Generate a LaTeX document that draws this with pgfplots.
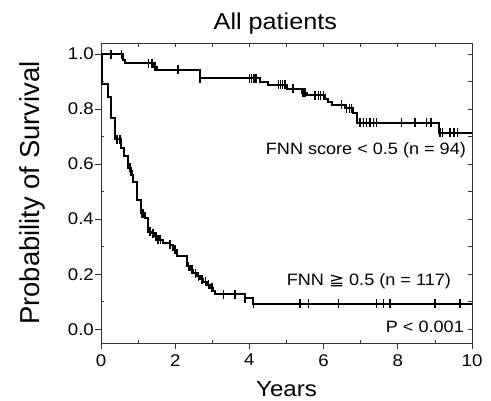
\documentclass[border=0pt]{standalone}
\usepackage{fontspec}
\setmainfont{Liberation Sans}[FakeStretch=1.1]
\newfontfamily\ylfont{Liberation Sans}
\newfontfamily\symfont{DejaVu Sans}[FakeStretch=1.1]
\usepackage{pgfplots}
\pgfplotsset{compat=1.18}

\pgfplotsset{kmbase/.style={
    width=371bp, height=300bp, scale only axis,
    xmin=0, xmax=10, ymin=-0.05, ymax=1.04,
    axis line style={black!80, line width=0.8bp},
    every tick/.style={black!80, line width=0.8bp},
}}

\begin{document}
\begin{tikzpicture}
% top/right ticks, pointing in
\begin{axis}[kmbase,
    xtick={0,1,...,10}, ytick={0,0.1,0.2,0.3,0.4,0.5,0.6,0.7,0.8,0.9,1.0},
    xtick pos=right, ytick pos=right, tick align=inside, major tick length=4bp,
    xticklabels={}, yticklabels={}]
\end{axis}
% minor ticks left/bottom, pointing in
\begin{axis}[kmbase,
    xtick={1,3,5,7,9}, ytick={0.1,0.3,0.5,0.7,0.9},
    xtick pos=left, ytick pos=left, tick align=inside, major tick length=3bp,
    xticklabels={}, yticklabels={}]
\end{axis}
% main axis with data
\begin{axis}[kmbase,
    clip=false,
    xtick={0,2,4,6,8,10}, ytick={0,0.2,0.4,0.6,0.8,1.0},
    xtick pos=left, ytick pos=left, tick align=outside, major tick length=6bp,
    /pgf/number format/assume math mode=true,
    yticklabel style={/pgf/number format/.cd, fixed, fixed zerofill, precision=1},
    xticklabel style={yshift=-4bp},
    ticklabel style={font=\fontsize{17}{19}\selectfont, inner sep=1bp},
  ]
% FNN score < 0.5
\addplot[const plot, black, line width=2bp] coordinates {
 (0,1.000) (0.58,0.978) (0.66,0.966) (1.40,0.954) (1.50,0.942) (2.67,0.912)
 (4.29,0.899) (4.51,0.888) (5.02,0.873) (5.41,0.860) (5.56,0.850) (6.04,0.836)
 (6.13,0.827) (6.22,0.815) (6.58,0.803) (6.80,0.787) (6.89,0.750) (9.12,0.714)
 (10,0.714)};
\addplot[only marks, mark=|, mark size=4.5bp, mark options={line width=1.4bp}, black] coordinates {
 (0.27,1.000) (0.56,1.000) (1.28,0.966) (1.37,0.966) (1.46,0.954) (2.08,0.942)
 (2.67,0.912) (4.00,0.912) (4.06,0.912) (4.12,0.912) (4.18,0.912)
 (4.78,0.888) (4.84,0.888) (4.90,0.888) (4.96,0.888) (5.18,0.873)
 (5.45,0.860) (5.50,0.860) (5.77,0.850) (5.86,0.850) (5.92,0.850) (5.99,0.850)
 (6.49,0.815) (6.62,0.803) (6.69,0.803) (6.76,0.803)
 (6.98,0.750) (7.07,0.750) (7.16,0.750) (7.25,0.750) (7.34,0.750) (7.43,0.750)
 (8.10,0.750) (8.46,0.750) (8.78,0.750) (8.90,0.750)
 (9.14,0.714) (9.20,0.714) (9.41,0.714) (9.52,0.714) (9.61,0.714)};
% FNN >= 0.5
\addplot[const plot, black, line width=2bp] coordinates {
 (0,1.000) (0.02,0.955) (0.04,0.890) (0.18,0.842) (0.27,0.769) (0.38,0.690)
 (0.54,0.660) (0.63,0.630) (0.72,0.587) (0.81,0.562) (0.86,0.535) (0.97,0.471)
 (1.07,0.421) (1.19,0.403) (1.28,0.355) (1.37,0.349) (1.46,0.337) (1.55,0.325)
 (1.68,0.313) (1.86,0.307) (1.95,0.288) (2.04,0.266) (2.31,0.228) (2.40,0.216)
 (2.49,0.204) (2.58,0.192) (2.67,0.182) (2.76,0.172) (2.85,0.161) (2.94,0.150)
 (3.03,0.138) (3.07,0.128) (3.88,0.113) (4.11,0.093) (10,0.093)};
\addplot[only marks, mark=|, mark size=4.5bp, mark options={line width=1.4bp}, black] coordinates {
 (0.43,0.690) (0.51,0.690) (0.78,0.587) (0.85,0.562) (1.10,0.421) (1.15,0.421)
 (1.32,0.355) (1.40,0.349) (1.48,0.337) (1.54,0.325) (1.61,0.325)
 (1.86,0.307) (2.00,0.288) (2.36,0.228) (2.45,0.216) (2.54,0.204) (2.63,0.192)
 (2.72,0.182) (2.81,0.172) (2.90,0.161) (2.99,0.150) (3.30,0.128) (3.61,0.128)
 (3.88,0.113) (4.11,0.093) (5.36,0.093) (5.59,0.093) (6.40,0.093) (7.43,0.093)
 (7.61,0.093) (7.79,0.093) (9.00,0.093) (9.68,0.093)};
% texts
\node[anchor=base, font=\fontsize{16.5}{18}\selectfont] at (axis cs:7.14,0.635) {FNN score < 0.5 (n = 94)};
\node[anchor=base, font=\fontsize{16.5}{18}\selectfont] at (axis cs:7.22,0.158) {FNN {\symfont ≧} 0.5 (n = 117)};
\node[anchor=base, font=\fontsize{16.5}{18}\selectfont] at (axis cs:8.73,-0.012) {P < 0.001};
\node[anchor=base, font=\fontsize{23}{26}\selectfont] at (axis cs:4.70,1.09) {All patients};
\node[anchor=base, font=\fontsize{22}{25}\selectfont] at (axis cs:5,-0.245) {Years};
\node[anchor=base, rotate=90, font=\ylfont\fontsize{27.5}{30}\selectfont] at (axis cs:-1.67,0.495) {Probability of Survival};
\end{axis}
\pgfresetboundingbox
\path ([shift={(-101bp,-58bp)}]current axis.south west) rectangle ([shift={(19bp,43bp)}]current axis.north east);
\end{tikzpicture}
\end{document}
